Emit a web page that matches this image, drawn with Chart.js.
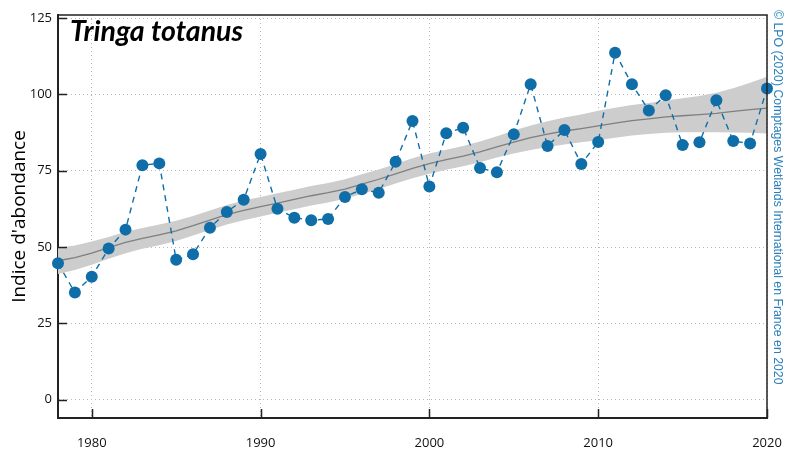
<!DOCTYPE html>
<html>
<head>
<meta charset="utf-8">
<script src="https://cdn.jsdelivr.net/npm/chart.js@4"></script>
<style>
  html, body { margin: 0; padding: 0; background: #fff; }
  #wrap { width: 785px; height: 450px; }
</style>
</head>
<body>
<div id="wrap"><canvas id="chart" width="785" height="450"></canvas></div>
<script>
// Indice d'abondance annuel, 1978-2020
const years = [1978, 1979, 1980, 1981, 1982, 1983, 1984, 1985, 1986, 1987,
  1988, 1989, 1990, 1991, 1992, 1993, 1994, 1995, 1996, 1997,
  1998, 1999, 2000, 2001, 2002, 2003, 2004, 2005, 2006, 2007,
  2008, 2009, 2010, 2011, 2012, 2013, 2014, 2015, 2016, 2017,
  2018, 2019, 2020];

const indice = [44.7, 35.1, 40.3, 49.5, 55.7, 76.8, 77.4, 45.8, 47.6, 56.3,
  61.5, 65.5, 80.5, 62.5, 59.6, 58.8, 59.2, 66.4, 68.9, 67.8,
  77.9, 91.3, 69.8, 87.3, 89.1, 75.9, 74.5, 86.9, 103.3, 83.1,
  88.3, 77.2, 84.4, 113.6, 103.3, 94.7, 99.7, 83.4, 84.3, 98.1,
  84.7, 83.9, 101.9];

// tendance lissée et intervalle de confiance
const tendance = [45.5, 46.5, 48.0, 49.8, 51.5, 52.8, 54.0, 55.3, 57.0, 58.8,
  60.6, 62.0, 63.2, 64.4, 65.6, 66.8, 67.8, 69.0, 70.6, 72.2,
  74.0, 75.8, 77.3, 78.6, 79.8, 81.2, 82.8, 84.4, 85.8, 87.0,
  88.0, 88.8, 89.7, 90.6, 91.4, 92.0, 92.6, 93.0, 93.4, 93.8,
  94.4, 95.0, 95.5];
const icBas = [41.2, 42.5, 44.2, 46.2, 48.0, 49.4, 50.6, 52.0, 53.8, 55.6,
  57.4, 58.8, 60.0, 61.2, 62.4, 63.6, 64.6, 65.8, 67.4, 69.0,
  70.8, 72.5, 74.0, 75.3, 76.5, 77.8, 79.3, 80.6, 81.8, 82.8,
  83.6, 84.3, 85.0, 85.8, 86.5, 87.0, 87.4, 87.6, 87.6, 87.6,
  87.5, 87.4, 87.2];
const icHaut = [49.8, 50.5, 51.8, 53.3, 55.0, 56.2, 57.4, 58.6, 60.2, 62.0,
  63.8, 65.2, 66.4, 67.6, 68.8, 70.0, 71.0, 72.2, 73.8, 75.4,
  77.2, 79.1, 80.6, 81.9, 83.1, 84.6, 86.3, 88.2, 89.8, 91.2,
  92.4, 93.4, 94.6, 95.6, 96.5, 97.2, 98.0, 98.7, 99.5, 100.5,
  102.0, 103.8, 105.8];

const xTicks = [1980, 1990, 2000, 2010, 2020];
const yTicks = [0, 25, 50, 75, 100, 125];

const espece = 'Tringa totanus';
const credit = '\u00A9 LPO (2020) Comptages Wetlands International en France en 2020';

const bleu = '#0f6ea8';
const pts = arr => years.map((y, i) => ({ x: y, y: arr[i] }));

// titre, crédit, cadre et petites graduations intérieures
const decor = {
  id: 'decor',
  afterDraw(chart) {
    const { ctx, chartArea: a, scales: { x, y } } = chart;
    ctx.save();
    ctx.strokeStyle = '#222';
    ctx.lineWidth = 1.5;
    ctx.beginPath();
    ctx.moveTo(a.left, a.top);
    ctx.lineTo(a.right, a.top);
    ctx.lineTo(a.right, a.bottom);
    ctx.stroke();

    ctx.beginPath();
    xTicks.forEach(v => {
      const px = Math.round(x.getPixelForValue(v)) + 0.5;
      ctx.moveTo(px, a.bottom);
      ctx.lineTo(px, a.bottom - 9);
    });
    yTicks.forEach(v => {
      const py = Math.round(y.getPixelForValue(v)) + 0.5;
      ctx.moveTo(a.left, py);
      ctx.lineTo(a.left + 9, py);
    });
    ctx.stroke();

    ctx.fillStyle = '#000';
    ctx.font = 'italic bold 28.5px Lato';
    ctx.textBaseline = 'alphabetic';
    ctx.fillText(espece, 70, 41);

    ctx.translate(777, 10);
    ctx.rotate(Math.PI / 2);
    ctx.fillStyle = '#2a80bb';
    ctx.font = '12.3px "Liberation Sans"';
    ctx.textBaseline = 'middle';
    ctx.fillText(credit, 0, 0);
    ctx.restore();
  }
};

const ctx = document.getElementById('chart').getContext('2d');
const chart = new Chart(ctx, {
  type: 'line',
  data: {
    datasets: [
      {
        label: 'IC haut',
        data: pts(icHaut),
        borderWidth: 0,
        pointRadius: 0,
        fill: '+1',
        backgroundColor: '#cdcdcd',
        order: 4
      },
      {
        label: 'IC bas',
        data: pts(icBas),
        borderWidth: 0,
        pointRadius: 0,
        fill: false,
        order: 3
      },
      {
        label: 'Tendance',
        data: pts(tendance),
        borderColor: '#7f7f7f',
        borderWidth: 1.3,
        pointRadius: 0,
        fill: false,
        order: 2
      },
      {
        label: 'Indice',
        data: pts(indice),
        borderColor: bleu,
        borderWidth: 1.4,
        borderDash: [6, 5],
        pointRadius: 6,
        pointBackgroundColor: bleu,
        pointBorderColor: bleu,
        pointBorderWidth: 0,
        fill: false,
        clip: false,
        order: 1
      }
    ]
  },
  options: {
    responsive: false,
    animation: false,
    layout: { padding: { left: 0, right: 18, top: 15, bottom: 0 } },
    plugins: {
      legend: { display: false },
      tooltip: { enabled: false }
    },
    scales: {
      x: {
        type: 'linear',
        min: 1978,
        max: 2020,
        afterBuildTicks: s => { s.ticks = xTicks.map(v => ({ value: v })); },
        afterFit: s => { s.height = 32; s.paddingLeft = 0; s.paddingRight = 0; },
        ticks: {
          callback: v => String(v),
          font: { family: 'Open Sans', size: 13 },
          color: '#111',
          padding: 17,
          maxRotation: 0
        },
        grid: { color: '#b8b8b8', lineWidth: 1, drawTicks: false },
        border: { display: true, color: '#222', width: 2, dash: [1, 3] }
      },
      y: {
        min: -6,
        max: 126,
        afterBuildTicks: s => { s.ticks = yTicks.map(v => ({ value: v })); },
        afterFit: s => { s.width = 58; },
        ticks: {
          font: { family: 'Open Sans', size: 13 },
          color: '#111',
          padding: 6
        },
        grid: { color: '#b8b8b8', lineWidth: 1, drawTicks: false },
        border: { display: true, color: '#222', width: 2, dash: [1, 3] },
        title: {
          display: true,
          text: "Indice d'abondance",
          font: { family: 'Open Sans', size: 19 },
          color: '#000',
          padding: { top: 8, bottom: 0 }
        }
      }
    }
  },
  plugins: [decor]
});
</script>
</body>
</html>
